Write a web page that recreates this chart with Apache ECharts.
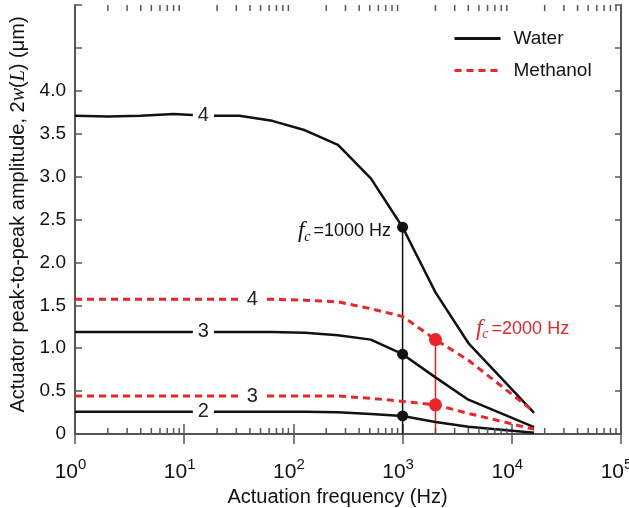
<!DOCTYPE html>
<html>
<head>
<meta charset="utf-8">
<script src="https://cdn.jsdelivr.net/npm/echarts@6/dist/echarts.min.js"></script>
<style>
  html, body { margin: 0; padding: 0; background: #fff; }
  #chart { width: 629px; height: 508px; }
</style>
</head>
<body>
<div id="chart"></div>
<script>
// frequencies (Hz) and peak-to-peak amplitudes (um)
const freq = [1, 2, 4, 8, 16, 32, 64, 128, 256, 512, 1000, 2000, 4000, 16000];
const water4 = [3.71, 3.70, 3.71, 3.73, 3.71, 3.71, 3.65, 3.54, 3.37, 2.98, 2.41, 1.65, 1.06, 0.245];
const water3 = [1.19, 1.19, 1.19, 1.19, 1.19, 1.19, 1.19, 1.18, 1.15, 1.10, 0.93, 0.66, 0.40, 0.08];
const water2 = [0.26, 0.26, 0.26, 0.26, 0.26, 0.26, 0.26, 0.26, 0.253, 0.233, 0.21, 0.14, 0.085, 0.015];
const methanol4 = [1.57, 1.57, 1.57, 1.57, 1.57, 1.57, 1.57, 1.56, 1.54, 1.46, 1.37, 1.10, 0.86, 0.26];
const methanol3 = [0.443, 0.443, 0.443, 0.443, 0.443, 0.443, 0.443, 0.443, 0.443, 0.416, 0.38, 0.34, 0.24, 0.055];

// in-line curve labels
const curveLabelText = ['4', '3', '2', '4', '3'];
const curveLabelFreq = [15, 15, 15, 42, 42];
const curveLabelValue = [3.71, 1.19, 0.26, 1.57, 0.443];

// cut-off frequencies
const fcWater = 1000;
const fcMethanol = 2000;

const yTicks = ['0', '0.5', '1.0', '1.5', '2.0', '2.5', '3.0', '3.5', '4.0'];

const BLACK = '#111';
const RED = '#ec2329';
const AXIS = '#555';
const FONT = 'Liberation Sans, Arial, Helvetica, sans-serif';
const SERIF = 'Liberation Serif, Times New Roman, serif';

const at = (arr, f) => arr[freq.indexOf(f)];
const pairs = arr => freq.map((f, i) => [f, arr[i]]);

// minor ticks of the log axis (2..9 x 10^n)
const minorTicks = [];
for (let n = 0; n < 5; n++) {
  for (let k = 2; k <= 9; k++) minorTicks.push([k * Math.pow(10, n)]);
}

const chart = echarts.init(document.getElementById('chart'), null, { renderer: 'canvas' });

function lineSeries(name, arr, color, dashed) {
  return {
    name: name,
    type: 'line',
    data: pairs(arr),
    symbol: 'none',
    smooth: false,
    z: 2,
    lineStyle: dashed
      ? { color: color, width: 3, type: [7, 5] }
      : { color: color, width: 2.5 },
    itemStyle: { color: color }
  };
}

const fcRich = {
  f: { fontFamily: SERIF, fontStyle: 'italic', fontSize: 23 },
  c: { fontFamily: SERIF, fontStyle: 'italic', fontSize: 14, padding: [12, 3, 0, 0] },
  t: { fontFamily: FONT, fontSize: 18 }
};

var option = {
  animation: false,
  grid: { left: 75, right: 8, top: 5, bottom: 74, outerBoundsMode: 'none' },
  legend: {
    data: ['Water', 'Methanol'],
    orient: 'vertical',
    left: 448,
    top: 24,
    itemWidth: 46,
    itemHeight: 14,
    itemGap: 13,
    selectedMode: false,
    itemStyle: { opacity: 0 },
    lineStyle: { width: 3 },
    textStyle: { fontSize: 19, fontFamily: FONT, color: BLACK, padding: [0, 0, 0, 8] }
  },
  xAxis: [{
    type: 'log',
    logBase: 10,
    min: 1,
    max: 100000,
    position: 'bottom',
    name: 'Actuation frequency (Hz)',
    nameLocation: 'middle',
    nameGap: 47,
    nameTextStyle: { fontSize: 20, fontFamily: FONT, color: BLACK, padding: [0, 21, 0, 0] },
    axisLine: { lineStyle: { color: AXIS, width: 2 } },
    axisTick: { inside: true, length: 10, lineStyle: { color: AXIS, width: 1.5 } },
    splitLine: { show: false },
    axisLabel: {
      margin: 23,
      color: BLACK,
      formatter: function (v) {
        return '{b|10}{s|' + Math.round(Math.log10(v)) + '}';
      },
      rich: {
        b: { fontSize: 21, fontFamily: FONT, lineHeight: 21, padding: [10, 0, 0, 0], color: BLACK },
        s: { fontSize: 15, fontFamily: FONT, verticalAlign: 'top', color: BLACK, padding: [0, 9, 0, 0] }
      }
    }
  }, {
    type: 'log',
    logBase: 10,
    min: 1,
    max: 100000,
    position: 'top',
    axisLine: { lineStyle: { color: AXIS, width: 2 } },
    axisTick: { inside: true, length: 10, lineStyle: { color: AXIS, width: 1.5 } },
    axisLabel: { show: false },
    splitLine: { show: false }
  }],
  yAxis: [{
    type: 'value',
    min: 0,
    max: 5,
    interval: 0.5,
    name: 'Actuator peak-to-peak amplitude, 2{i|w}({i|L}) (μm)',
    nameLocation: 'middle',
    nameGap: 40,
    nameTextStyle: {
      fontSize: 20, fontFamily: FONT, color: BLACK, padding: [0, 0, 0, 10],
      rich: { i: { fontSize: 20, fontFamily: SERIF, fontStyle: 'italic', color: BLACK } }
    },
    axisLine: { show: true, lineStyle: { color: AXIS, width: 2 } },
    axisTick: { show: true, inside: true, length: 7, lineStyle: { color: AXIS, width: 1.5 } },
    splitLine: { show: false },
    axisLabel: {
      margin: 9,
      fontSize: 19,
      fontFamily: FONT,
      color: BLACK,
      formatter: function (v, i) { return yTicks[i] !== undefined ? yTicks[i] : ''; }
    }
  }, {
    type: 'value',
    min: 0,
    max: 5,
    interval: 0.5,
    position: 'right',
    axisLine: { show: true, lineStyle: { color: AXIS, width: 2 } },
    axisTick: { show: true, inside: true, length: 6, lineStyle: { color: AXIS, width: 1.5 } },
    axisLabel: { show: false },
    splitLine: { show: false }
  }],
  series: [
    lineSeries('Water', water4, BLACK, false),
    lineSeries('Water', water3, BLACK, false),
    lineSeries('Water', water2, BLACK, false),
    lineSeries('Methanol', methanol4, RED, true),
    lineSeries('Methanol', methanol3, RED, true),
    {
      name: 'fc water',
      type: 'line',
      data: [[fcWater, 0], [fcWater, at(water4, fcWater)]],
      symbol: 'none',
      z: 1,
      lineStyle: { color: BLACK, width: 1.5 }
    },
    {
      name: 'fc methanol',
      type: 'line',
      data: [[fcMethanol, 0], [fcMethanol, at(methanol4, fcMethanol)]],
      symbol: 'none',
      z: 1,
      lineStyle: { color: RED, width: 1.5 }
    },
    {
      name: 'fc water dots',
      type: 'scatter',
      symbolSize: 11,
      z: 4,
      itemStyle: { color: BLACK, opacity: 1 },
      data: [
        {
          value: [fcWater, at(water4, fcWater)],
          label: {
            show: true, position: 'left', distance: 6, offset: [0, 4], color: BLACK,
            formatter: '{f|f}{c|c}{t|=1000 Hz}', rich: fcRich
          }
        },
        [fcWater, at(water3, fcWater)],
        [fcWater, at(water2, fcWater)]
      ]
    },
    {
      name: 'fc methanol dots',
      type: 'scatter',
      symbolSize: 13,
      z: 4,
      itemStyle: { color: RED, opacity: 1 },
      data: [
        {
          value: [fcMethanol, at(methanol4, fcMethanol)],
          label: {
            show: true, position: 'right', distance: 34, offset: [0, -11], color: RED,
            formatter: '{f|f}{c|c}{t|=2000 Hz}', rich: fcRich
          }
        },
        [fcMethanol, at(methanol3, fcMethanol)]
      ]
    },
    {
      name: 'curve labels',
      type: 'scatter',
      symbolSize: 1,
      z: 5,
      itemStyle: { color: 'rgba(0,0,0,0)', opacity: 1 },
      data: curveLabelText.map(function (t, i) {
        return {
          value: [curveLabelFreq[i], curveLabelValue[i]],
          label: {
            show: true,
            position: 'inside',
            formatter: t,
            fontSize: 20,
            fontFamily: FONT,
            color: '#222',
            backgroundColor: '#fff',
            padding: [1, 5]
          }
        };
      })
    },
    {
      name: 'minor ticks',
      type: 'custom',
      data: minorTicks,
      encode: { x: 0 },
      z: 6,
      silent: true,
      renderItem: function (params, api) {
        const b = api.coord([api.value(0), 0]);
        const t = api.coord([api.value(0), 5]);
        const s = { stroke: AXIS, lineWidth: 1.5 };
        return {
          type: 'group',
          children: [
            { type: 'line', shape: { x1: b[0], y1: b[1], x2: b[0], y2: b[1] - 6 }, style: s },
            { type: 'line', shape: { x1: t[0], y1: t[1], x2: t[0], y2: t[1] + 6 }, style: s }
          ]
        };
      }
    }
  ]
};

chart.setOption(option);
</script>
</body>
</html>
